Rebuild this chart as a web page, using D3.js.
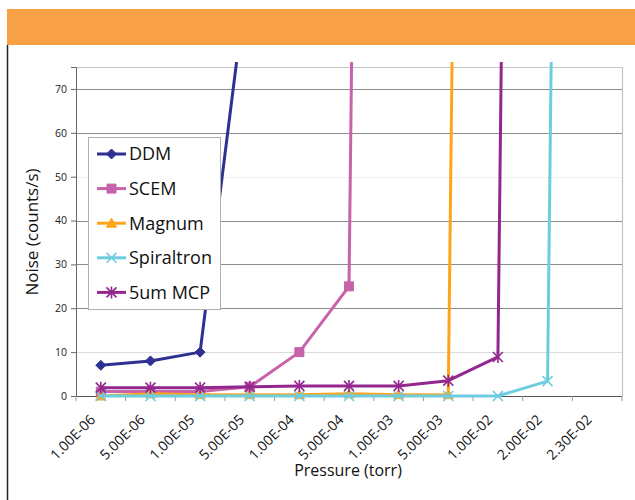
<!DOCTYPE html>
<html>
<head>
<meta charset="utf-8">
<script src="https://cdn.jsdelivr.net/npm/d3@7"></script>
<style>
  html, body { margin: 0; padding: 0; background: #fff; }
  svg { display: block; font-family: "Open Sans", "Noto Sans", sans-serif; }
</style>
</head>
<body>
<svg id="chart" width="635" height="500"></svg>
<script>
// ---- data ----
const categories = ["1.00E-06","5.00E-06","1.00E-05","5.00E-05","1.00E-04","5.00E-04","1.00E-03","5.00E-03","1.00E-02","2.00E-02","2.30E-02"];
const ddm        = [7, 8, 10, 100];
const scem       = [1, 1, 1, 2.1, 10, 25, 1000];
const magnum     = [0, 0.5, 0.3, 0.3, 0.3, 0.5, 0.3, 0.3, 1000];
const spiraltron = [0, 0, 0, 0, 0, 0, 0, 0, 0, 3.4, 1000];
const mcp        = [1.9, 1.9, 1.9, 2.1, 2.3, 2.3, 2.3, 3.5, 8.9, 1000];
const seriesNames = ["DDM", "SCEM", "Magnum", "Spiraltron", "5um MCP"];
const yTicks = [0, 10, 20, 30, 40, 50, 60, 70];
const xTitle = "Pressure (torr)";
const yTitle = "Noise (counts/s)";

const seriesValues = [ddm, scem, magnum, spiraltron, mcp];
const colors = ["#2e3192", "#c763aa", "#ffa41a", "#6dcde0", "#93278f"];
const markers = ["diamond", "square", "triangle", "x", "asterisk"];

const svg = d3.select("#chart");

// banner & left rule
svg.append("rect").attr("x", 7).attr("y", 9).attr("width", 628).attr("height", 36).attr("fill", "#f7a046");
svg.append("line").attr("x1", 7.5).attr("x2", 7.5).attr("y1", 45).attr("y2", 500)
  .attr("stroke", "#222").attr("stroke-width", 1.5);

const L = 76, R = 622, T = 67, B = 396;
const x = d3.scaleBand().domain(categories).range([L, R]);
const y = d3.scaleLinear().domain([0, 75]).range([B, T]);
const cx = c => x(c) + x.bandwidth() / 2;

// plot border (top/right)
svg.append("path").attr("d", `M${L},${T + 0.5}H${R + 0.5}V${B}`)
  .attr("fill", "none").attr("stroke", "#c4c4c4").attr("stroke-width", 1.2);

// gridlines
const gridColor = v => v === 50 ? "#f1f1f1" : (v === 10 ? "#dcdcdc" : "#8c8c8c");
svg.append("g").selectAll("line").data(yTicks.filter(v => v > 0)).join("line")
  .attr("x1", L).attr("x2", R)
  .attr("y1", d => Math.round(y(d)) + 0.5).attr("y2", d => Math.round(y(d)) + 0.5)
  .attr("stroke", gridColor).attr("stroke-width", 1);

// y axis
const yAxis = svg.append("g").attr("transform", `translate(${L},0)`)
  .call(d3.axisLeft(y).tickValues(yTicks).tickSize(5).tickPadding(4).tickFormat(d3.format("d")));
yAxis.select(".domain").attr("stroke", "#666");
yAxis.selectAll(".tick line").attr("stroke", "#666");
yAxis.selectAll(".tick text").attr("font-size", 10.5).attr("fill", "#222")
  .attr("font-family", "'Open Sans', sans-serif");

// x axis
const xAxisG = svg.append("g").attr("transform", `translate(0,${B})`);
xAxisG.append("line").attr("x1", L).attr("x2", R).attr("y1", 0.5).attr("y2", 0.5).attr("stroke", "#555");
const bounds = categories.map(c => x(c)).concat([R]);
xAxisG.selectAll("line.tk").data(bounds).join("line").attr("class", "tk")
  .attr("x1", d => d).attr("x2", d => d).attr("y1", 0).attr("y2", 5).attr("stroke", "#999");
xAxisG.selectAll("text").data(categories).join("text")
  .attr("transform", d => `translate(${cx(d) - 4.5},${24.5}) rotate(-45)`)
  .attr("text-anchor", "end").attr("font-size", 14).attr("letter-spacing", 0.1).attr("fill", "#111")
  .text(d => d);

// clip
svg.append("clipPath").attr("id", "clip").append("rect")
  .attr("x", L).attr("y", 62).attr("width", R - L).attr("height", 360);

function markerPath(type, r) {
  switch (type) {
    case "diamond": return `M0,${-r}L${r},0L0,${r}L${-r},0Z`;
    case "square": return `M${-r},${-r}H${r}V${r}H${-r}Z`;
    case "triangle": return `M0,${-r}L${r},${r * 0.8}L${-r},${r * 0.8}Z`;
    case "x": return `M${-r},${-r}L${r},${r}M${r},${-r}L${-r},${r}`;
    case "asterisk": return `M${-r},${-r}L${r},${r}M${r},${-r}L${-r},${r}M0,${-r * 1.2}V${r * 1.2}`;
  }
}
function drawMarker(g, type, color, px, py) {
  const filled = type === "diamond" || type === "square" || type === "triangle";
  const r = type === "square" ? 4.5 : 5;
  g.append("path").attr("d", markerPath(type, r)).attr("transform", `translate(${px},${py})`)
    .attr("fill", filled ? color : "none").attr("stroke", color)
    .attr("stroke-width", filled ? 1 : 1.6);
}

const plot = svg.append("g").attr("clip-path", "url(#clip)");
const line = d3.line().x(d => cx(d.c)).y(d => y(d.v));
seriesValues.forEach((vals, i) => {
  const pts = vals.map((v, j) => ({ c: categories[j], v }));
  plot.append("path").datum(pts).attr("d", line)
    .attr("fill", "none").attr("stroke", colors[i]).attr("stroke-width", 3)
    .attr("stroke-linejoin", "round");
  const mg = plot.append("g");
  pts.forEach(p => drawMarker(mg, markers[i], colors[i], cx(p.c), y(p.v)));
});

// legend
const lg = svg.append("g");
lg.append("rect").attr("x", 88.5).attr("y", 137.5).attr("width", 132).attr("height", 172)
  .attr("fill", "#fff").attr("stroke", "#b0b0b0");
seriesNames.forEach((n, i) => {
  const ly = 154 + i * 34.6;
  lg.append("line").attr("x1", 97).attr("x2", 126).attr("y1", ly).attr("y2", ly)
    .attr("stroke", colors[i]).attr("stroke-width", 3);
  drawMarker(lg, markers[i], colors[i], 111.5, ly);
  lg.append("text").attr("x", 129).attr("y", ly).attr("dy", "0.36em")
    .attr("font-size", 18).attr("fill", "#111").text(n);
});

// titles
svg.append("text").attr("x", 348).attr("y", 476).attr("text-anchor", "middle")
  .attr("font-size", 16).attr("fill", "#111").text(xTitle);
svg.append("text").attr("transform", "translate(38,232) rotate(-90)").attr("text-anchor", "middle")
  .attr("font-size", 17).attr("fill", "#111").text(yTitle);
</script>
</body>
</html>
